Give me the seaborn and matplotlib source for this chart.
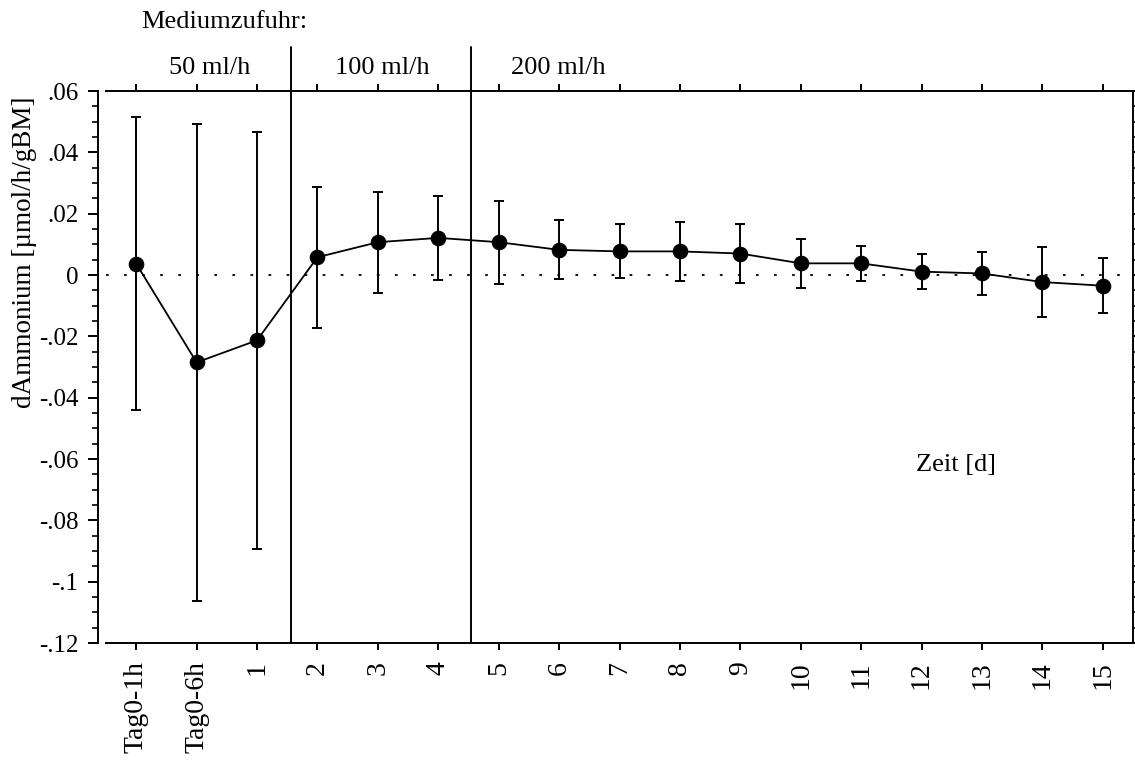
import matplotlib
matplotlib.use("Agg")
import matplotlib.pyplot as plt
import seaborn as sns
import numpy as np
import pandas as pd
from matplotlib.ticker import MultipleLocator

categories = ["Tag0-1h", "Tag0-6h", "1", "2", "3", "4", "5", "6", "7", "8",
              "9", "10", "11", "12", "13", "14", "15"]
means = [0.0037, -0.0285, -0.0213, 0.0058, 0.0107, 0.0121, 0.0107, 0.0082,
         0.0077, 0.0077, 0.0070, 0.0038, 0.0038, 0.0011, 0.0005, -0.0023, -0.0035]
errors = [0.0477, 0.0778, 0.0680, 0.0230, 0.0165, 0.0136, 0.0135, 0.0096,
          0.0088, 0.0096, 0.0096, 0.0081, 0.0058, 0.0058, 0.0070, 0.0113, 0.0090]
phase_labels = ["50 ml/h", "100 ml/h", "200 ml/h"]
phase_bounds = [2.56, 5.54]
yticks = [0.06, 0.04, 0.02, 0.0, -0.02, -0.04, -0.06, -0.08, -0.1, -0.12]
yticklabels = [".06", ".04", ".02", "0", "-.02", "-.04", "-.06", "-.08", "-.1", "-.12"]

sns.set_style("ticks")
plt.rcParams["font.family"] = ["Liberation Serif", "DejaVu Serif"]
plt.rcParams["text.color"] = "black"
plt.rcParams["axes.labelcolor"] = "black"
plt.rcParams["xtick.color"] = "black"
plt.rcParams["ytick.color"] = "black"

df = pd.DataFrame({"idx": np.arange(len(categories)), "mean": means, "err": errors})

fig = plt.figure(figsize=(11.35, 7.6), dpi=100)
ax = fig.add_axes([106 / 1135, 1 - 643 / 760, (1133 - 106) / 1135, (643 - 91) / 760])

ax.errorbar(df["idx"], df["mean"], yerr=df["err"], fmt="none", ecolor="black",
            elinewidth=1.4, capsize=3.5, capthick=1.4, zorder=2)
sns.lineplot(data=df, x="idx", y="mean", ax=ax, color="black", linewidth=1.3,
             marker="o", markersize=10.5, markeredgecolor="black",
             markerfacecolor="black", zorder=3)

ax.axhline(0, color="black", linewidth=1.3, linestyle=(0, (1.5, 8.5)), zorder=1)

ax.set_xlim(-0.5, len(categories) - 0.5)
ax.set_ylim(-0.12, 0.06)

ax.set_xticks(np.arange(len(categories)))
ax.set_xticklabels(categories, rotation=90)
ax.set_yticks(yticks)
ax.set_yticklabels(yticklabels)
ax.yaxis.set_minor_locator(MultipleLocator(0.005))

ax.tick_params(axis="y", which="major", direction="out", length=7, width=1.4,
               pad=7, labelsize=18, left=True, right=True, labelright=False)
ax.tick_params(axis="y", which="minor", direction="out", length=4, width=1.2,
               left=True, right=True)
ax.tick_params(axis="x", which="major", direction="out", length=5, width=1.4,
               pad=8, labelsize=20, top=True, labeltop=False)

for s in ["left", "right", "top", "bottom"]:
    ax.spines[s].set_visible(True)
    ax.spines[s].set_linewidth(1.4)
    ax.spines[s].set_color("black")
ax.spines["left"].set_position(("outward", 6))

ax.set_xlabel("")
ax.set_ylabel("")
fig.text(25 / 1135, 1 - 252 / 760, "dAmmonium [µmol/h/gBM]", rotation=90,
         ha="center", va="center", fontsize=19.5)

for b in phase_bounds:
    ax.plot([b, b], [-0.12, 0.06 + 0.0145], color="black", linewidth=1.4,
            clip_on=False, zorder=4)

ax.text(1.21, 0.0675, phase_labels[0], ha="center", va="center", fontsize=19)
ax.text(4.07, 0.0675, phase_labels[1], ha="center", va="center", fontsize=19)
ax.text(6.2, 0.0675, phase_labels[2], ha="left", va="center", fontsize=19)
ax.text(0.08, 0.0825, "Mediumzufuhr:", ha="left", va="center", fontsize=19)
ax.text(13.57, -0.062, "Zeit [d]", ha="center", va="center", fontsize=19)

fig.savefig("out.png", dpi=100)
